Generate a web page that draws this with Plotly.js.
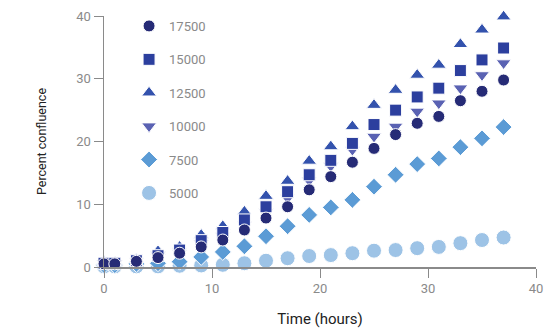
<!DOCTYPE html>
<html>
<head>
<meta charset="utf-8">
<script src="https://cdn.plot.ly/plotly-3.0.1.min.js"></script>
<style>html,body{margin:0;padding:0;background:#fff;}#chart{width:546px;height:330px;}</style>
</head>
<body>
<div id="chart"></div>
<script>
const hours = [0, 1, 3, 5, 7, 9, 11, 13, 15, 17, 19, 21, 23, 25, 27, 29, 31, 33, 35, 37];
const seriesNames = ["17500", "15000", "12500", "10000", "7500", "5000"];
const s17500 = [0.5, 0.5, 0.9, 1.5, 2.2, 3.2, 4.3, 5.9, 7.8, 9.6, 12.3, 14.4, 16.7, 18.9, 21.1, 22.9, 24.0, 26.5, 28.0, 29.8];
const s15000 = [0.6, 0.6, 1.0, 1.8, 2.7, 4.2, 5.5, 7.5, 9.6, 12.0, 14.7, 17.0, 19.7, 22.7, 25.0, 27.1, 28.5, 31.3, 33.0, 34.9];
const s12500 = [0.8, 0.7, 1.2, 2.5, 3.2, 5.1, 6.5, 8.8, 11.3, 13.7, 16.9, 19.2, 22.4, 25.8, 28.2, 30.6, 32.2, 35.5, 37.8, 39.9];
const s10000 = [0.6, 0.6, 1.0, 1.9, 2.6, 3.8, 5.0, 6.7, 8.8, 11.0, 13.8, 16.1, 18.7, 20.8, 22.4, 24.8, 26.1, 28.5, 30.6, 32.5];
const s7500  = [0.3, 0.3, 0.5, 0.6, 0.85, 1.6, 2.4, 3.3, 4.9, 6.5, 8.3, 9.5, 10.7, 12.8, 14.7, 16.4, 17.3, 19.1, 20.5, 22.3];
const s5000  = [0.1, 0.1, 0.1, 0.1, 0.2, 0.25, 0.35, 0.6, 1.0, 1.4, 1.75, 1.9, 2.2, 2.6, 2.7, 3.0, 3.2, 3.8, 4.3, 4.7];

const values = [s17500, s15000, s12500, s10000, s7500, s5000];
const colors = ["#262b76", "#2c3f9e", "#3352ad", "#5a62b3", "#5b9bd5", "#9dc3e6"];
const symbols = ["circle", "square", "triangle-up", "triangle-down", "diamond", "circle"];
const sizes = [12, 12, 13, 13, 13, 15];

const traces = [];
for (let i = seriesNames.length - 1; i >= 0; i--) {
  traces.push({
    type: "scatter",
    mode: "markers",
    name: seriesNames[i],
    legendgroup: "g" + i,
    legendrank: i + 1,
    x: hours,
    y: values[i],
    cliponaxis: false,
    marker: {symbol: symbols[i], size: sizes[i], color: colors[i], line: {color: "#ffffff", width: 1}}
  });
}

const gray = "#8a8a8a";
const layout = {
  width: 546, height: 330,
  margin: {l: 104, r: 10, t: 16, b: 63},
  paper_bgcolor: "#fff", plot_bgcolor: "#fff",
  font: {family: "Roboto, 'Noto Sans', sans-serif", size: 13, color: gray},
  showlegend: true,
  legend: {
    x: 0.058, xanchor: "left", y: 1.02, yanchor: "top",
    traceorder: "grouped", tracegroupgap: 13.5, maxheight: 320,
    font: {size: 13, color: gray},
    bgcolor: "rgba(0,0,0,0)", borderwidth: 0
  },
  xaxis: {
    range: [0, 40], tickvals: [0, 10, 20, 30, 40],
    showgrid: false, zeroline: false,
    showline: true, linecolor: gray, linewidth: 1.5,
    ticks: "outside", ticklen: 9, tickcolor: gray, tickwidth: 1,
    tickfont: {size: 13, color: gray},
    title: {text: "Time (hours)", font: {size: 15, color: "#222"}, standoff: 18}
  },
  yaxis: {
    range: [0, 40], tickvals: [0, 10, 20, 30, 40],
    showgrid: false, zeroline: false,
    showline: true, linecolor: gray, linewidth: 1.5,
    ticks: "outside", ticklen: 9, tickcolor: gray, tickwidth: 1,
    tickfont: {size: 13, color: gray},
    title: {text: "Percent confluence", font: {size: 12.5, color: "#222"}, standoff: 27}
  }
};

Plotly.newPlot("chart", traces, layout, {displayModeBar: false, staticPlot: true});
</script>
</body>
</html>
